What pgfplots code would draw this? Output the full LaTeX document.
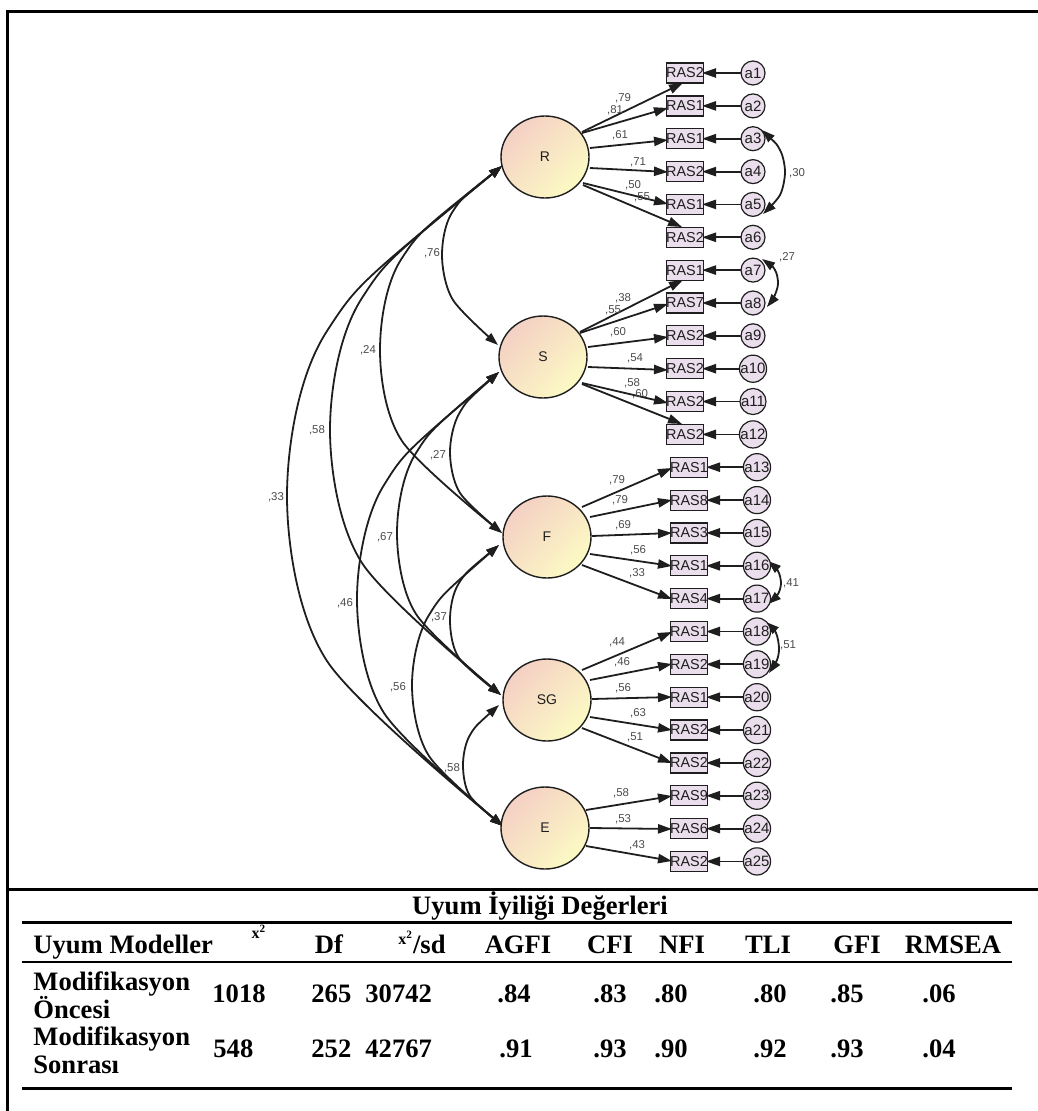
\documentclass[border=0pt]{standalone}
\usepackage{fontspec}
\setmainfont{Liberation Serif}
\newfontfamily\amos{Liberation Sans}
\usepackage{pgfplots}
\pgfplotsset{compat=1.18}
\usetikzlibrary{arrows.meta,shapes.geometric}

\definecolor{latA}{RGB}{244,208,196}
\definecolor{latB}{RGB}{252,250,196}
\definecolor{boxfill}{RGB}{234,221,236}
\definecolor{ink}{RGB}{30,30,30}
\definecolor{lbl}{RGB}{75,75,75}

\newcommand\tabfont{\bfseries\fontsize{13.3bp}{15bp}\selectfont}
\newcommand\lblfont{\amos\fontsize{5.7bp}{6.5bp}\selectfont}

\tikzset{
  tip/.style={-{Triangle[length=7bp,width=4.6bp]}},
  dtip/.style={{Triangle[length=6.5bp,width=4.4bp]}-{Triangle[length=6.5bp,width=4.4bp]}},
}

\begin{document}
\begin{tikzpicture}
\begin{axis}[
  width=519bp, height=555.5bp, scale only axis,
  xmin=0, xmax=1038, ymin=0, ymax=1111, y dir=reverse,
  hide axis, clip=false,
  every node near coord/.append style={anchor=center},
]
%% frame
\addplot[black, line width=1.5bp] coordinates {(7,1111) (7,11) (1038,11)};
\addplot[black, line width=1.5bp] coordinates {(7,889) (1038,889)};
%% table rules
\addplot[black, line width=1.5bp] coordinates {(22,922) (1012,922)};
\addplot[black, line width=1bp] coordinates {(22,962) (1012,962)};
\addplot[black, line width=1.5bp] coordinates {(22,1088) (1012,1088)};

%% factor covariances
\addplot[ink, line width=0.9bp, smooth, dtip] coordinates {(502,166) (453,211) (442,255) (453,300) (498,345)};
\addplot[ink, line width=0.9bp, smooth, dtip] coordinates {(502,166) (402,258) (380,350) (402,441) (502,533)};
\addplot[ink, line width=0.9bp, smooth, dtip] coordinates {(502,166) (362,298) (330,430) (362,563) (501,695)};
\addplot[ink, line width=0.9bp, smooth, dtip] coordinates {(502,166) (327,331) (287,496) (327,661) (503,826)};
\addplot[ink, line width=0.9bp, smooth, dtip] coordinates {(499,372) (460,412) (450,452) (460,493) (502,533)};
\addplot[ink, line width=0.9bp, smooth, dtip] coordinates {(499,372) (416,453) (397,533) (416,614) (501,695)};
\addplot[ink, line width=0.9bp, smooth, dtip] coordinates {(499,372) (384,485) (357,599) (384,713) (503,826)};
\addplot[ink, line width=0.9bp, smooth, dtip] coordinates {(499,545) (459,583) (450,620) (459,658) (501,695)};
\addplot[ink, line width=0.9bp, smooth, dtip] coordinates {(499,545) (429,615) (412,685) (429,756) (503,826)};
\addplot[ink, line width=0.9bp, smooth, dtip] coordinates {(499,705) (470,735) (463,765) (470,796) (503,826)};

%% error covariances
\addplot[ink, line width=0.9bp, smooth, dtip] coordinates {(762,130) (780,150) (785,172) (780,195) (763,214)};
\addplot[ink, line width=0.9bp, smooth, dtip] coordinates {(762,259) (775,270) (778,284) (774,297) (767,307)};
\addplot[ink, line width=0.9bp, smooth, dtip] coordinates {(768,561) (778,571) (781,583) (778,594) (768,604)};
\addplot[ink, line width=0.9bp, smooth, dtip] coordinates {(766,622) (776,633) (779,648) (777,660) (769,673)};

%% observed variables
\addplot[only marks, mark=none, point meta=explicit symbolic,
  nodes near coords={\pgfplotspointmeta},
  nodes near coords style={rectangle, draw=ink, line width=0.6bp, fill=boxfill,
    minimum width=17bp, minimum height=10bp, inner sep=0pt,
    font={\amos\fontsize{7.2bp}{7.5bp}\selectfont}, text=ink}]
coordinates {
(685,73.0)[RAS2] (685,105.9)[RAS1] (685,138.7)[RAS1] (685,171.6)[RAS2]
(685,204.4)[RAS1] (685,237.3)[RAS2] (685,270.1)[RAS1] (685,303.0)[RAS7]
(685,335.8)[RAS2] (685,368.7)[RAS2] (685,401.5)[RAS2] (685,434.4)[RAS2]
(689,467.2)[RAS1] (689,500.1)[RAS8] (689,532.9)[RAS3] (689,565.8)[RAS1]
(689,598.6)[RAS4] (689,631.5)[RAS1] (689,664.3)[RAS2] (689,697.2)[RAS1]
(689,730.0)[RAS2] (689,762.9)[RAS2] (689,795.7)[RAS9] (689,828.6)[RAS6]
(689,861.4)[RAS2]
};

%% error terms
\addplot[only marks, mark=none, point meta=explicit symbolic,
  nodes near coords={\pgfplotspointmeta},
  nodes near coords style={circle, draw=ink, line width=0.6bp, fill=boxfill,
    minimum size=12bp, inner sep=0pt,
    font={\amos\fontsize{7.5bp}{7.5bp}\selectfont}, text=ink}]
coordinates {
(753,73.0)[a1] (753,105.9)[a2] (753,138.7)[a3] (753,171.6)[a4]
(753,204.4)[a5] (753,237.3)[a6] (753,270.1)[a7] (753,303.0)[a8]
(753,335.8)[a9] (753,368.7)[a10] (753,401.5)[a11] (753,434.4)[a12]
(757,467.2)[a13] (757,500.1)[a14] (757,532.9)[a15] (757,565.8)[a16]
(757,598.6)[a17] (757,631.5)[a18] (757,664.3)[a19] (757,697.2)[a20]
(757,730.0)[a21] (757,762.9)[a22] (757,795.7)[a23] (757,828.6)[a24]
(757,861.4)[a25]
};

%% error arrows
\addplot[ink, line width=0.9bp, tip, quiver={u=-39, v=0}] table {
x y
741 73.0
741 105.9
741 138.7
741 171.6
741 204.4
741 237.3
741 270.1
741 303.0
741 335.8
741 368.7
741 401.5
741 434.4
};
\addplot[ink, line width=0.9bp, tip, quiver={u=-39, v=0}] table {
x y
745 467.2
745 500.1
745 532.9
745 565.8
745 598.6
745 631.5
745 664.3
745 697.2
745 730.0
745 762.9
745 795.7
745 828.6
745 861.4
};

%% factor loadings
\addplot[ink, line width=0.9bp, tip,
  quiver={u=\thisrow{xe}-\thisrow{x}, v=\thisrow{ye}-\thisrow{y}}] table {
x y xe ye
582 132 683 83
582 133 668 108
590 148 668 140
590 168 668 172
583 183 668 204
583 185 682 227
580 332 683 280
580 333 668 304
588 347 668 337
588 367 668 370
582 383 668 403
582 384 682 424
582 507 672 468
590 517 672 500
592 536 672 533
590 554 672 566
582 565 672 599
582 670 672 632
590 680 672 664
592 699 672 697
590 717 672 730
582 728 672 763
586 810 672 796
590 828 672 829
586 846 672 861
};

%% latent factors
\addplot[only marks, mark=none, point meta=explicit symbolic,
  nodes near coords={\pgfplotspointmeta},
  nodes near coords style={ellipse, draw=ink, line width=0.7bp,
    top color=latA, bottom color=latB, shading angle=45,
    minimum width=44bp, minimum height=41bp, inner sep=0pt,
    font={\amos\fontsize{7bp}{8bp}\selectfont}, text=ink}]
coordinates {(545,157)[R] (543,357)[S] (547,537)[F] (547,700)[SG] (545,828)[E]};

%% loading values
\addplot[only marks, mark=none, point meta=explicit symbolic,
  nodes near coords={{,}\pgfplotspointmeta},
  nodes near coords style={inner sep=0pt, font=\lblfont, text=lbl}]
coordinates {
(623,98)[79] (615,110)[81] (620,135)[61] (638,162)[71] (633,185)[50] (642,197)[55]
(623,298)[38] (613,310)[55] (618,332)[60] (635,358)[54] (632,383)[58] (640,394)[60]
(617,480)[79] (620,500)[79] (623,525)[69] (638,550)[56] (637,573)[33]
(617,642)[44] (622,662)[46] (623,688)[56] (638,713)[63] (635,737)[51]
(621,793)[58] (623,819)[53] (637,845)[43]
};

%% covariance values
\addplot[only marks, mark=none, point meta=explicit symbolic,
  nodes near coords={{,}\pgfplotspointmeta},
  nodes near coords style={inner sep=0pt, font=\lblfont, text=lbl}]
coordinates {
(432,253)[76] (368,350)[24] (317,430)[58] (276,497)[33] (438,455)[27]
(385,537)[67] (345,603)[46] (439,617)[37] (398,687)[56] (452,768)[58]
(797,173)[30] (787,257)[27] (791,583)[41] (788,645)[51]
};

%% table: title
\addplot[only marks, mark=none, nodes near coords={Uyum İyiliği Değerleri},
  nodes near coords style={anchor=base, inner sep=0pt, font={\bfseries\fontsize{13.3bp}{15bp}\selectfont}}]
coordinates {(540,914)};
%% table: left column
\addplot[only marks, mark=none, point meta=explicit symbolic,
  nodes near coords={\pgfplotspointmeta},
  nodes near coords style={anchor=base west, inner sep=0pt, font=\tabfont}]
coordinates {(33,953)[Uyum Modeller] (33,990)[Modifikasyon] (33,1018)[Öncesi]
  (33,1045)[Modifikasyon] (33,1073)[Sonrası]};
%% table: header
\addplot[only marks, mark=none, point meta=explicit symbolic,
  nodes near coords={\pgfplotspointmeta},
  nodes near coords style={anchor=base, inner sep=0pt, font=\tabfont}]
coordinates {(329,953)[Df] (518,953)[AGFI] (610,953)[CFI] (682,953)[NFI]
  (768,953)[TLI] (857,953)[GFI] (953,953)[RMSEA]};
\addplot[only marks, mark=none,
  nodes near coords={x\textsuperscript{2}},
  nodes near coords style={anchor=base, inner sep=0pt, font={\bfseries\fontsize{8bp}{9bp}\selectfont}}]
coordinates {(259,938)};
\addplot[only marks, mark=none,
  nodes near coords={\raisebox{4.5bp}{\fontsize{8bp}{9bp}\selectfont x\textsuperscript{2}}/sd},
  nodes near coords style={anchor=base, inner sep=0pt, font=\tabfont}]
coordinates {(422,953)};
%% table: values, left-set columns
\addplot[only marks, mark=none, point meta=explicit symbolic,
  nodes near coords={\pgfplotspointmeta},
  nodes near coords style={anchor=base west, inner sep=0pt, font=\tabfont}]
coordinates {(212,1002)[1018] (311,1002)[265] (365,1002)[30742]
  (213,1057)[548] (311,1057)[252] (365,1057)[42767]};
%% table: values, centred columns
\addplot[only marks, mark=none, point meta=explicit symbolic,
  nodes near coords={\pgfplotspointmeta},
  nodes near coords style={anchor=base, inner sep=0pt, font=\tabfont}]
coordinates {(514,1002)[.84] (610,1002)[.83] (671,1002)[.80] (770,1002)[.80] (847,1002)[.85] (939,1002)[.06]
  (516,1057)[.91] (610,1057)[.93] (671,1057)[.90] (770,1057)[.92] (847,1057)[.93] (939,1057)[.04]};
\end{axis}
\pgfresetboundingbox
\path (current axis.south west) rectangle (current axis.north east);
\end{tikzpicture}
\end{document}
